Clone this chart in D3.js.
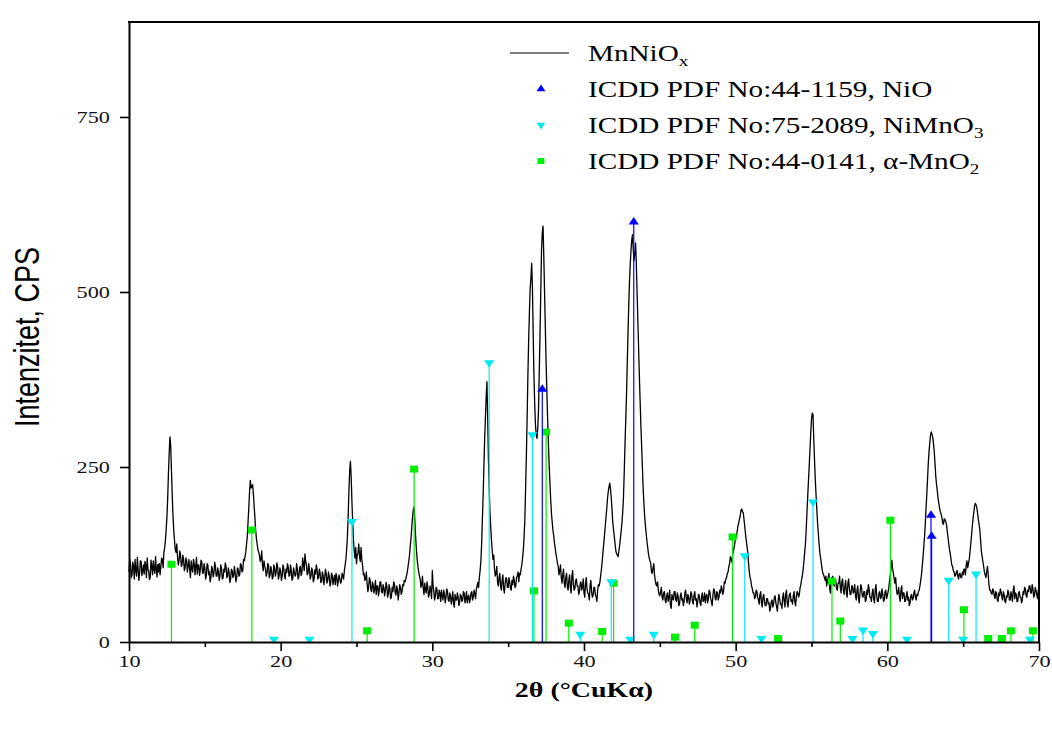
<!DOCTYPE html>
<html><head><meta charset="utf-8">
<script src="https://cdn.jsdelivr.net/npm/d3@7"></script>
<style>body{margin:0;background:#fff}</style>
</head><body>
<svg id="c" width="1052" height="731"></svg>
<script>
// ---- data ----
const thetaStart = 10, thetaStep = 0.05;
const mnniox = [
100,118,112,92,96,114,108,90,118,102,94,121,105,88,99,116,115,95,102,110,
97,115,110,92,120,104,101,89,93,117,108,96,116,104,98,122,104,93,111,100,
112,96,108,120,118,106,128,134,145,160,178,205,240,270,293,280,245,210,180,160,
145,132,128,140,122,110,116,130,124,108,110,124,118,102,106,120,115,100,109,118,
104,92,116,105,100,118,112,96,108,121,97,110,110,95,103,117,114,98,99,112,
106,90,95,112,110,96,101,86,92,108,104,93,98,114,108,94,94,106,100,88,
96,110,105,90,91,104,100,113,108,92,94,106,99,85,90,104,102,92,95,108,
98,86,92,106,104,94,96,112,110,100,102,118,116,122,128,140,150,172,192,215,
231,220,222,225,212,195,178,160,148,140,132,128,124,115,118,130,110,102,116,108,
104,94,98,112,110,92,96,108,102,90,93,110,105,94,99,113,108,90,95,106,
101,88,94,110,106,95,90,104,99,112,107,94,95,110,102,88,91,106,100,94,
96,112,104,90,93,106,108,95,99,120,112,102,126,115,110,96,98,112,103,90,
94,106,101,86,89,103,97,110,104,90,92,104,99,85,86,100,95,82,90,104,
98,84,88,100,94,80,84,98,96,82,89,95,82,98,93,80,87,96,91,84,
86,98,95,90,102,110,118,132,150,180,215,245,258,235,200,170,145,130,120,135,
112,124,128,140,122,115,135,118,110,96,98,88,90,100,84,72,78,92,88,74,
72,86,82,70,76,88,68,80,80,66,74,86,86,72,70,82,78,66,73,85,
80,64,69,82,76,62,64,78,72,86,83,70,67,80,75,60,70,82,78,68,
72,82,80,88,86,90,95,100,108,116,125,138,150,165,180,190,193,172,150,132,
118,108,100,94,90,78,82,94,76,68,84,74,70,86,78,64,68,80,74,62,
102,80,72,60,66,78,76,62,62,74,70,58,74,66,60,74,68,56,64,76,
72,60,58,70,66,54,62,72,55,50,68,60,60,70,64,52,57,68,66,58,
60,72,70,56,62,72,56,64,67,56,61,70,72,60,64,74,69,62,75,80,
85,78,92,102,115,140,175,210,250,290,320,350,372,320,260,220,185,165,145,130,
118,124,104,94,98,108,86,80,92,98,80,74,88,96,76,70,84,92,90,78,
78,92,86,76,74,88,82,94,88,78,80,92,94,100,86,98,96,104,110,120,
132,150,175,220,265,320,380,430,470,505,520,541,505,440,380,340,310,296,291,305,
330,385,440,500,560,585,594,550,500,450,400,360,320,285,255,230,205,185,172,160,
152,142,134,126,120,112,108,96,102,110,92,84,96,104,84,78,92,98,80,74,
88,96,78,70,94,102,82,74,76,88,90,80,80,68,72,84,86,74,78,90,
70,64,84,92,76,70,68,60,80,88,72,64,66,78,78,68,64,58,74,82,
80,86,95,104,115,128,140,152,165,178,190,205,215,222,227,218,205,188,170,160,
150,140,130,126,124,122,130,138,148,158,170,185,205,240,280,315,350,395,440,480,
515,540,560,575,582,560,545,555,570,540,500,460,420,380,345,310,280,250,220,198,
180,166,155,144,135,126,120,116,112,100,98,106,112,96,88,82,80,86,74,68,
66,72,78,64,60,70,72,60,56,66,70,58,64,74,52,48,68,62,60,72,
72,60,58,70,66,52,54,66,70,60,62,52,58,70,74,62,56,68,64,54,
60,72,68,58,54,66,72,60,62,50,58,68,66,56,52,64,70,58,60,70,
56,66,68,56,62,74,72,62,58,52,66,76,74,62,60,72,70,60,64,74,
70,80,76,68,72,86,84,90,92,98,100,108,112,122,118,114,125,130,135,142,
148,152,158,166,170,176,180,188,190,186,185,175,165,154,145,136,128,112,100,92,
88,80,76,70,70,62,64,74,72,64,60,54,68,72,56,50,64,68,58,52,
52,62,62,54,56,44,48,58,60,50,54,64,66,56,50,44,58,68,62,54,
54,48,64,70,58,50,68,74,56,50,62,68,70,58,60,54,66,72,58,52,
64,72,70,64,68,78,82,90,95,104,115,128,140,160,185,208,230,252,275,298,
318,327,325,290,260,232,210,190,170,155,140,128,120,112,104,98,96,92,88,94,
80,88,92,98,76,70,86,92,94,82,80,90,88,76,74,84,84,94,78,70,
86,90,74,68,80,88,70,64,84,90,76,68,68,80,80,70,72,82,66,60,
74,80,62,56,70,82,78,66,64,72,72,58,60,74,68,82,76,64,64,58,
70,76,62,56,74,82,66,58,58,70,72,62,64,76,68,58,60,72,74,62,
66,72,78,88,96,108,117,104,98,90,84,92,76,68,70,78,64,58,74,80,
62,70,70,58,58,66,72,60,64,52,56,66,68,60,62,70,74,64,60,68,
66,72,74,80,88,96,108,120,135,150,168,190,210,232,255,272,285,296,300,296,
292,282,270,252,235,224,215,204,198,190,186,182,178,170,168,176,175,172,168,158,
150,140,132,126,118,110,108,102,100,94,95,100,102,94,90,98,98,92,92,100,
96,104,104,96,110,116,106,112,118,128,140,152,165,176,185,194,198,196,192,184,
175,168,160,145,130,122,115,108,100,96,92,100,108,96,82,74,74,70,68,76,
74,66,62,72,70,60,58,70,66,76,72,64,60,72,68,58,56,66,64,74,
70,60,60,72,66,58,74,80,62,70,68,58,58,70,72,64,64,56,60,72,
68,78,76,66,64,74,72,80,80,70,70,82,76,64,66,78,74,68,62,74,
66];
const nio = [[37.25,361],[43.28,600],[62.88,181],[62.92,151]];
const nimno3 = [[19.55,4],[21.9,4],[24.7,172],[33.75,399],[36.6,296],[39.75,11],[41.8,86],[43.05,4],[44.6,11],[50.6,123],[51.7,5],[55.1,200],[57.7,5],[58.4,17],[59.05,12],[61.3,4],[64.05,88],[65.0,4],[65.85,97],[69.4,4]];
const mno2 = [[12.8,111],[18.1,160],[25.7,16],[28.8,247],[36.7,73],[37.5,300],[39.0,27],[41.2,15],[41.95,84],[46.0,7],[47.3,24],[49.8,150],[52.8,5],[56.35,87],[56.9,30],[60.2,174],[65.05,46],[66.65,5],[67.55,5],[68.15,16],[69.6,16]];
const xTicks = [10,20,30,40,50,60,70];
const xMinor = [15,25,35,45,55,65];
const yTicks = [0,250,500,750];
const xDomain = [10,70];
const yTopValue = 885.7;

// ---- drawing ----
const svg = d3.select('#c');
const SX = 1.27; // horizontal stretch of the reference
const x = d3.scaleLinear().domain(xDomain).range([129,1039]);
const y = d3.scaleLinear().domain([0,yTopValue]).range([642,22]);
const serif = "'Liberation Serif','Times New Roman',serif";
const sans = "'Liberation Sans',Arial,sans-serif";

// curve
const line = d3.line().x((d,i)=>x(thetaStart+i*thetaStep)).y(d=>y(d));
svg.append('path').datum(mnniox).attr('d',line)
  .attr('fill','none').attr('stroke','#000').attr('stroke-width',1.3).attr('stroke-linejoin','round');

// sticks
const series = [
  {data:mno2, color:'#00ee00', sym:d3.symbolSquare, size:49, rot:0},
  {data:nimno3, color:'#00eaf4', sym:d3.symbolTriangle, size:34, rot:180},
  {data:nio, color:'#0000ff', sym:d3.symbolTriangle, size:34, rot:0}
];
series.forEach(s=>{
  const g = svg.append('g');
  g.selectAll('line').data(s.data).join('line')
    .attr('x1',d=>x(d[0])).attr('x2',d=>x(d[0]))
    .attr('y1',y(0)).attr('y2',d=>y(d[1]))
    .attr('stroke',s.color).attr('stroke-width',1.2);
  g.selectAll('path').data(s.data).join('path')
    .attr('d',d3.symbol(s.sym,s.size)())
    .attr('transform',d=>`translate(${x(d[0])},${y(d[1])}) scale(1.15,1) rotate(${s.rot})`)
    .attr('fill',s.color);
});

// axes
const xAxis = svg.append('g').attr('transform','translate(0,642)')
  .call(d3.axisBottom(x).tickValues(xTicks).tickSize(9).tickSizeOuter(0).tickPadding(4));
svg.append('g').attr('transform','translate(0,642)')
  .call(d3.axisBottom(x).tickValues(xMinor).tickSize(5).tickFormat(''))
  .call(g=>g.select('.domain').remove());
const yAxis = svg.append('g').attr('transform','translate(129,0)')
  .call(d3.axisLeft(y).tickValues(yTicks).tickSize(9).tickSizeOuter(0).tickPadding(8));
svg.selectAll('.domain').attr('stroke-width',2);
svg.selectAll('.tick line').attr('stroke-width',1.6);
xAxis.selectAll('text').attr('font-family',serif).attr('font-size',17.5).attr('fill','#111')
  .attr('transform',`scale(${SX},1)`);
yAxis.selectAll('text').attr('font-family',serif).attr('font-size',17.5).attr('fill','#111')
  .attr('x',-15).attr('transform',`scale(${SX},1)`);

// frame
svg.append('line').attr('x1',x(xDomain[0])-1).attr('x2',x(xDomain[1])+1).attr('y1',y(yTopValue)).attr('y2',y(yTopValue)).attr('stroke','#000').attr('stroke-width',2);
svg.append('line').attr('x1',x(xDomain[1])).attr('x2',x(xDomain[1])).attr('y1',y(yTopValue)).attr('y2',y(0)).attr('stroke','#000').attr('stroke-width',2);

// axis titles
svg.append('text').attr('transform',`translate(584,697) scale(${SX},1)`)
  .attr('text-anchor','middle').attr('font-family',serif).attr('font-weight','bold').attr('font-size',22)
  .text('2θ (°CuKα)');
svg.append('text').attr('transform',`translate(39,337) scale(${SX},1) rotate(-90)`)
  .attr('text-anchor','middle').attr('font-family',sans).attr('font-size',27)
  .text('Intenzitet, CPS');

// legend
const legendItems = [
  {main:'MnNiO', sub:'x', type:'line', color:'#000'},
  {main:'ICDD PDF No:44-1159, NiO', sub:'', type:'up', color:'#0000ff'},
  {main:'ICDD PDF No:75-2089, NiMnO', sub:'3', type:'down', color:'#00eaf4'},
  {main:'ICDD PDF No:44-0141, α-MnO', sub:'2', type:'sq', color:'#00ee00'}
];
legendItems.forEach((it,i)=>{
  const cy = 53 + i*36;
  if(it.type==='line'){
    svg.append('line').attr('x1',510).attr('x2',569).attr('y1',cy).attr('y2',cy).attr('stroke','#000').attr('stroke-width',1);
  } else {
    const sym = it.type==='sq'? d3.symbolSquare : d3.symbolTriangle;
    svg.append('path').attr('d',d3.symbol(sym, it.type==='sq'?36:26)())
      .attr('transform',`translate(541,${cy}) scale(1.15,1) rotate(${it.type==='down'?180:0})`)
      .attr('fill',it.color);
  }
  const t = svg.append('text').attr('transform',`translate(588,${cy+8}) scale(${SX},1)`)
    .attr('font-family',serif).attr('font-size',23).attr('fill','#000');
  t.append('tspan').text(it.main);
  if(it.sub) t.append('tspan').attr('font-size',15).attr('dy',5).text(it.sub);
});
</script>
</body></html>
